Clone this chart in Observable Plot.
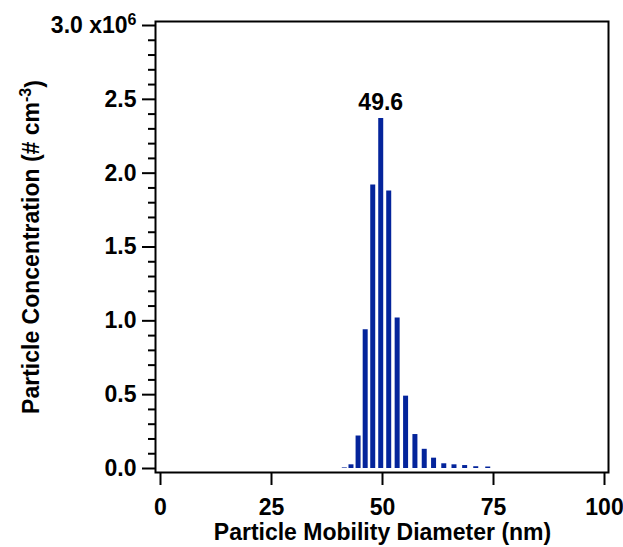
<!DOCTYPE html>
<html><head><meta charset="utf-8">
<script src="https://cdn.jsdelivr.net/npm/d3@7"></script>
<script src="https://cdn.jsdelivr.net/npm/@observablehq/plot@0.6"></script>
<style>html,body{margin:0;padding:0;background:#fff;overflow:hidden}</style>
</head><body><div id="chart"></div>
<script>
// Particle mobility diameter bin midpoints (nm)
const diameters = [41.4, 42.9, 44.5, 46.1, 47.8, 49.6, 51.4, 53.3, 55.2, 57.3, 59.4, 61.5, 63.8, 66.1, 68.5, 71.0, 73.7];
// Particle concentration (# cm^-3)
const concentrations = [4000, 25000, 220000, 940000, 1920000, 2370000, 1880000, 1020000, 490000, 230000, 130000, 70000, 32000, 25000, 20000, 12000, 10000];
const xTicks = [0, 25, 50, 75, 100];
const yTicks = [0, 500000, 1000000, 1500000, 2000000, 2500000, 3000000];
const yMinorTicks = d3.range(0, 31).map(i => i * 100000).filter(v => !yTicks.includes(v));
const xLabel = "Particle Mobility Diameter (nm)";
const yLabel = "Particle Concentration (# cm^-3^)";

const data = diameters.map((d, i) => ({d, c: concentrations[i]}));
const peak = data.reduce((a, b) => (b.c > a.c ? b : a));

const font = "'Liberation Sans', Arial, Helvetica, sans-serif";
const barColor = "#04249b";
const fs = 23;

const chart = Plot.plot({
  width: 623,
  height: 547,
  marginLeft: 160,
  marginRight: 19,
  marginTop: 25,
  marginBottom: 79,
  style: {fontFamily: font, fontSize: fs + "px", fontWeight: "bold", color: "#000", background: "#fff"},
  x: {domain: [0, 100]},
  y: {domain: [0, 3000000]},
  marks: [
    Plot.ruleX(data, {x: "d", y1: 0, y2: "c", stroke: barColor, strokeWidth: 5}),
    Plot.frame({stroke: "#000", strokeWidth: 2, insetLeft: -5, insetRight: -4, insetTop: -4, insetBottom: -4}),
    Plot.axisY({ticks: yMinorTicks, tickSize: 7, dx: -5, strokeWidth: 2, tickFormat: () => "", label: null}),
    Plot.axisY({ticks: yTicks, tickSize: 13, dx: -5, strokeWidth: 2, tickPadding: 6, fontSize: fs,
      tickFormat: d => d === 3000000 ? "3.0 x10^6^" : (d / 1e6).toFixed(1), label: null}),
    Plot.axisX({ticks: xTicks, tickSize: 13, dy: 4, strokeWidth: 2, tickPadding: 13, fontSize: fs,
      tickFormat: d => String(d), label: null}),
    Plot.text([xLabel], {text: d => d, frameAnchor: "bottom", lineAnchor: "middle", dy: 64, fontSize: fs, fontWeight: "bold"}),
    Plot.text([yLabel], {text: d => d, frameAnchor: "left", textAnchor: "middle", lineAnchor: "middle", rotate: -90, dx: -129, fontSize: fs, fontWeight: "bold"}),
    Plot.text([peak], {x: "d", y: "c", text: d => d.d.toFixed(1), dy: -16, fontSize: fs, fontWeight: "bold"})
  ]
});
document.getElementById("chart").appendChild(chart);

// Render ^...^ segments as superscripts
d3.select(chart).selectAll("text").each(function () {
  const el = d3.select(this);
  const tspans = el.selectAll("tspan");
  const targets = tspans.empty() ? [this] : tspans.nodes();
  targets.forEach(node => {
    const s = node.textContent;
    if (!s.includes("^")) return;
    const parts = s.split("^");
    const sel = d3.select(node);
    sel.text(null);
    parts.forEach((p, i) => {
      if (!p) return;
      const sup = i % 2 === 1;
      sel.append("tspan").text(p)
        .attr("font-size", sup ? 16 : null)
        .attr("dy", sup ? "-0.5em" : (i > 0 ? "0.5em" : null));
    });
  });
});
</script>
</body></html>
